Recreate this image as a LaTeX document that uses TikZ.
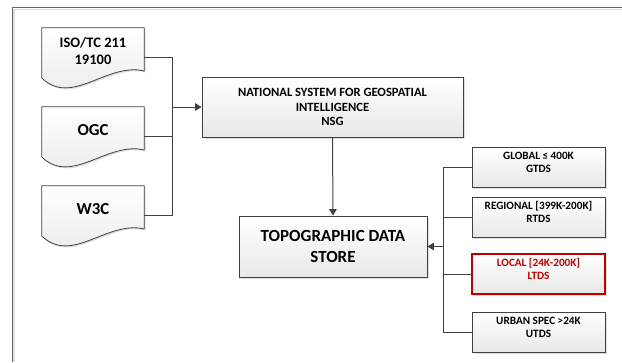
\documentclass[tikz,border=0pt]{standalone}
\usepackage{fontspec}
\setmainfont{Carlito}
\usetikzlibrary{arrows.meta,shadows,calc}
\definecolor{linegray}{HTML}{404040}
\definecolor{boxred}{HTML}{C00000}
\begin{document}
\begin{tikzpicture}[x=1pt,y=-1pt,
  box/.style={draw=linegray,line width=0.8pt,top color=white,bottom color=gray!18,
    drop shadow={shadow xshift=1.5pt,shadow yshift=-1.5pt,opacity=0.25},
    align=center,inner sep=0pt},
  tier/.style={box,minimum width=133pt,minimum height=40pt,text depth=10pt,
    font=\fontsize{11.2}{12.7}\selectfont\bfseries},
  docbox/.style={minimum width=102pt,minimum height=58pt,inner sep=0pt},
  conn/.style={linegray,line width=1pt},
  arr/.style={conn,-{Triangle[width=7.5pt,length=6.5pt]}}]
\useasboundingbox (0,0) rectangle (622,362);
% frame
\draw[gray!25,line width=1.5pt] (14,362) -- (14,9.5) -- (622,9.5);
\draw[linegray!80,line width=1pt] (12,362) -- (12,7) -- (622,7);
% standards
\foreach \n/\y in {iso/57,ogc/136,w3c/215}
  \node[docbox] (\n) at (93,\y) {};
\foreach \n in {iso,ogc,w3c}
  \draw[linegray,line width=0.8pt,top color=white,bottom color=gray!18,
    drop shadow={shadow xshift=1.5pt,shadow yshift=-1.5pt,opacity=0.25}]
    (\n.north west) -- (\n.north east) -- ($(\n.east)+(0,14)$)
    .. controls ($(\n.east)+(-37,5)$) and ($(\n.west)+(30,50)$) .. ($(\n.west)+(0,21)$) -- cycle;
\node[font=\fontsize{14.5}{17}\selectfont\bfseries,align=center] (isotxt) at ($(iso)+(0,-6.5)$) {ISO/TC 211\\19100};
\node[font=\fontsize{16.8}{19}\selectfont\bfseries] (ogctxt) at ($(ogc)+(0,-5.5)$) {OGC};
\node[font=\fontsize{16.8}{19}\selectfont\bfseries] (w3ctxt) at ($(w3c)+(0,-6)$) {W3C};
% main boxes
\node[box,minimum width=261pt,minimum height=60pt,font=\fontsize{12.6}{14.5}\selectfont\bfseries] (nsg) at (332.5,107)
  {NATIONAL SYSTEM FOR GEOSPATIAL\\INTELLIGENCE\\NSG};
\node[box,minimum width=188pt,minimum height=61pt,font=\fontsize{17}{21}\selectfont\bfseries] (tds) at (333,246.5)
  {TOPOGRAPHIC DATA\\STORE};
% scales
\node[tier] (gtds) at (538.5,167) {GLOBAL ≤ 400K\\GTDS};
\node[tier] (rtds) at (538.5,217) {REGIONAL [399K-200K]\\RTDS};
\node[tier,draw=boxred,line width=2.5pt,text=boxred] (ltds) at (538.5,274) {LOCAL [24K-200K]\\LTDS};
\node[tier] (utds) at (538.5,332) {URBAN SPEC >24K\\UTDS};
% connectors
\coordinate (lbus) at (172,107);
\coordinate (rbus) at (443,246.5);
\draw[conn] (iso.east) -- (iso.east -| lbus) -- (w3c.east -| lbus) -- (w3c.east);
\draw[conn] (ogc.east) -- (ogc.east -| lbus);
\draw[arr] (lbus) -- (nsg.west);
\draw[arr] (nsg.south) -- (tds.north);
\draw[conn] (gtds.west) -- (gtds.west -| rbus) -- (utds.west -| rbus) -- (utds.west);
\draw[conn] (rtds.west) -- (rtds.west -| rbus);
\draw[conn] (ltds.west) -- (ltds.west -| rbus);
\draw[arr] (rbus) -- (tds.east);
\end{tikzpicture}
\end{document}
